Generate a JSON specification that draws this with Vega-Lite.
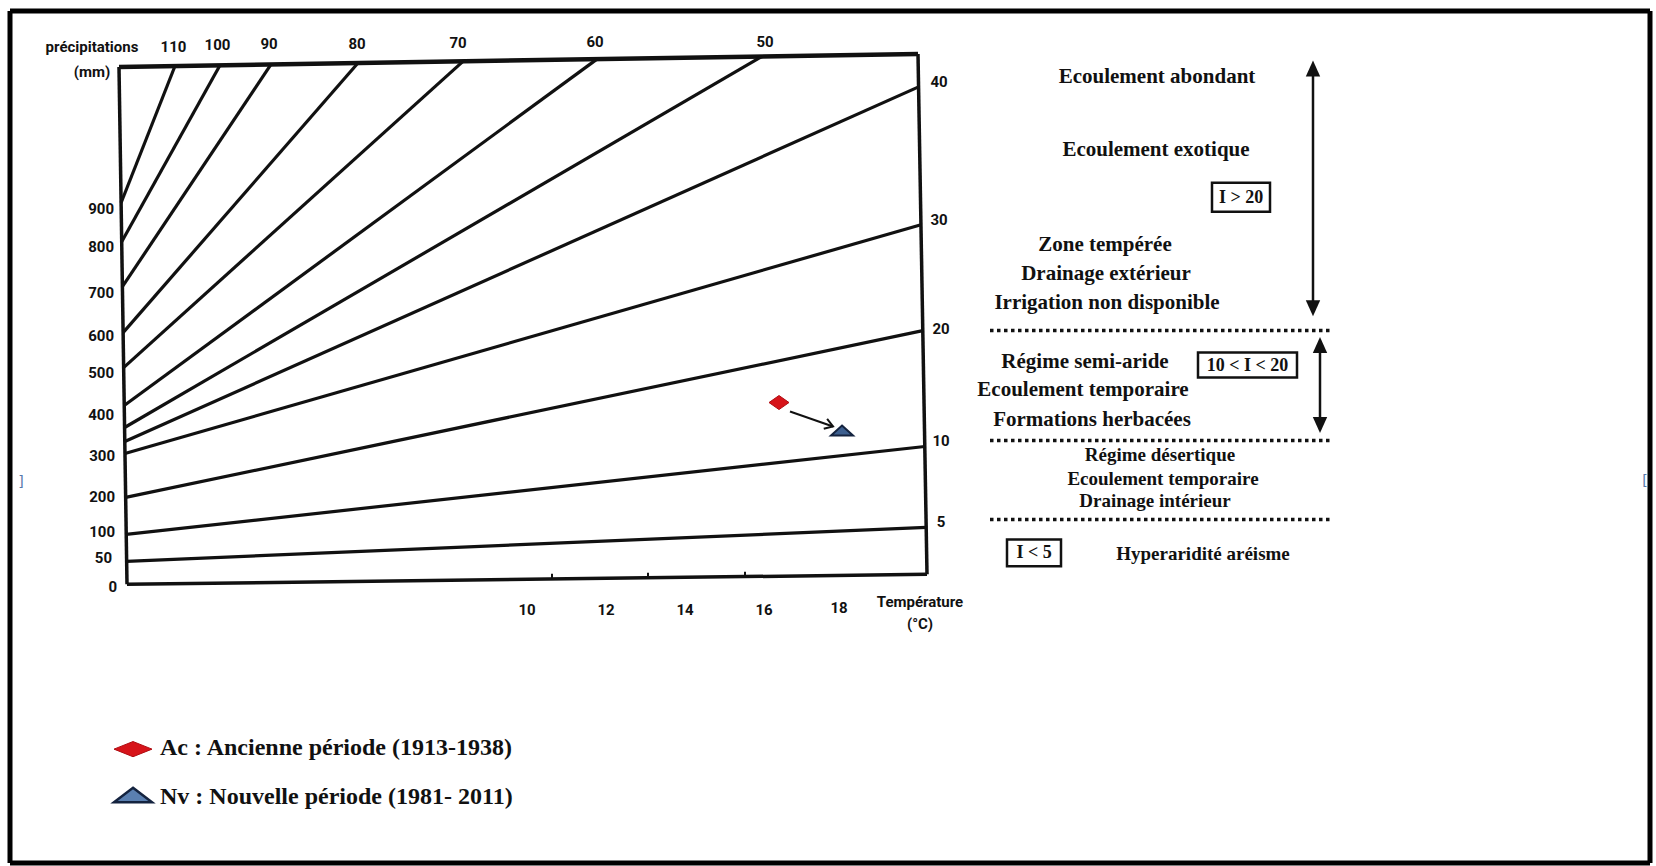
{
  "$schema": "https://vega.github.io/schema/vega-lite/v6.json",
  "width": 1656,
  "height": 866,
  "autosize": {"type": "fit", "contains": "padding"},
  "padding": 0,
  "background": "white",
  "config": {"view": {"stroke": null}},
  "datasets": {
    "frame": [
      {"x": 10, "y": 11, "x2": 1650, "y2": 11},
      {"x": 10, "y": 11, "x2": 10, "y2": 864},
      {"x": 1650, "y": 11, "x2": 1650, "y2": 864},
      {"x": 10, "y": 864, "x2": 1650, "y2": 864}
    ],
    "topEdge": [
      {"edge": "top", "x": 119, "y": 67, "x2": 918, "y2": 54}
    ],
    "axes": [
      {"edge": "left", "x": 119, "y": 67, "x2": 127, "y2": 585},
      {"edge": "right", "x": 918, "y": 54, "x2": 927, "y2": 575},
      {"edge": "bottom", "x": 127, "y": 585, "x2": 927, "y2": 575}
    ],
    "isolines": [
      {"I": 110, "x": 121.1, "y": 203, "x2": 175, "y2": 66.1},
      {"I": 100, "x": 121.7, "y": 242, "x2": 220, "y2": 65.4},
      {"I": 90, "x": 122.4, "y": 287, "x2": 271, "y2": 64.5},
      {"I": 80, "x": 123.1, "y": 333, "x2": 358, "y2": 63.1},
      {"I": 70, "x": 123.6, "y": 368, "x2": 463, "y2": 61.4},
      {"I": 60, "x": 124.2, "y": 406, "x2": 597, "y2": 59.2},
      {"I": 50, "x": 124.6, "y": 428, "x2": 762, "y2": 56.5},
      {"I": 40, "x": 124.8, "y": 442, "x2": 918.6, "y2": 87},
      {"I": 30, "x": 125, "y": 454, "x2": 921, "y2": 225},
      {"I": 20, "x": 125.7, "y": 498, "x2": 922.8, "y2": 331},
      {"I": 10, "x": 126.2, "y": 535, "x2": 924.8, "y2": 447},
      {"I": 5, "x": 126.6, "y": 562, "x2": 926.2, "y2": 528}
    ],
    "ticks": [
      {"T": 12, "x": 552, "y": 579.7, "x2": 552, "y2": 574.5},
      {"T": 14, "x": 648, "y": 578.5, "x2": 648, "y2": 573.5},
      {"T": 16, "x": 745, "y": 577.3, "x2": 745, "y2": 572.3}
    ],
    "leftlabels": [
      {"label": "900", "x": 114, "y": 209},
      {"label": "800", "x": 114, "y": 247},
      {"label": "700", "x": 114, "y": 293},
      {"label": "600", "x": 114, "y": 336},
      {"label": "500", "x": 114, "y": 373},
      {"label": "400", "x": 114, "y": 415},
      {"label": "300", "x": 115, "y": 457},
      {"label": "200", "x": 115, "y": 498},
      {"label": "100", "x": 115, "y": 533},
      {"label": "50", "x": 112, "y": 559},
      {"label": "0", "x": 117, "y": 588}
    ],
    "centerlabels": [
      {"label": "précipitations", "x": 92, "y": 47},
      {"label": "(mm)", "x": 92, "y": 72},
      {"label": "110", "x": 173.5, "y": 47},
      {"label": "100", "x": 217.5, "y": 45},
      {"label": "90", "x": 269, "y": 44},
      {"label": "80", "x": 357, "y": 44},
      {"label": "70", "x": 458, "y": 43},
      {"label": "60", "x": 595, "y": 42},
      {"label": "50", "x": 765, "y": 42},
      {"label": "40", "x": 939, "y": 82},
      {"label": "30", "x": 939, "y": 220},
      {"label": "20", "x": 941, "y": 329},
      {"label": "10", "x": 941, "y": 442},
      {"label": "5", "x": 941, "y": 523},
      {"label": "10", "x": 527, "y": 611},
      {"label": "12", "x": 606, "y": 611},
      {"label": "14", "x": 685, "y": 611},
      {"label": "16", "x": 764, "y": 611},
      {"label": "18", "x": 839, "y": 609},
      {"label": "Température", "x": 920, "y": 603},
      {"label": "(°C)", "x": 920, "y": 625}
    ],
    "zones": [
      {"label": "Ecoulement abondant", "x": 1157, "y": 77},
      {"label": "Ecoulement exotique", "x": 1156, "y": 150},
      {"label": "Zone tempérée", "x": 1105, "y": 245},
      {"label": "Drainage extérieur", "x": 1106, "y": 274},
      {"label": "Irrigation non disponible", "x": 1107, "y": 303},
      {"label": "Régime semi-aride", "x": 1085, "y": 362},
      {"label": "Ecoulement temporaire", "x": 1083, "y": 390},
      {"label": "Formations herbacées", "x": 1092, "y": 420}
    ],
    "zones2": [
      {"label": "Régime désertique", "x": 1160, "y": 456},
      {"label": "Ecoulement temporaire", "x": 1163, "y": 480},
      {"label": "Drainage intérieur", "x": 1155, "y": 502},
      {"label": "Hyperaridité aréisme", "x": 1203, "y": 555}
    ],
    "boxes": [
      {"label": "I > 20", "x": 1212, "x2": 1270, "y": 183, "y2": 212, "cx": 1241, "cy": 198},
      {"label": "10 < I < 20", "x": 1198, "x2": 1297, "y": 353, "y2": 378, "cx": 1247.5, "cy": 366},
      {"label": "I < 5", "x": 1007, "x2": 1061, "y": 540, "y2": 567, "cx": 1034, "cy": 554}
    ],
    "dotted": [
      {"x": 990, "y": 331, "x2": 1333, "y2": 331},
      {"x": 990, "y": 441, "x2": 1333, "y2": 441},
      {"x": 990, "y": 520, "x2": 1333, "y2": 520}
    ],
    "shafts": [
      {"x": 1313, "y": 70, "x2": 1313, "y2": 307},
      {"x": 1320, "y": 347, "x2": 1320, "y2": 424}
    ],
    "headsUp": [
      {"x": 1313, "y": 68.5},
      {"x": 1320, "y": 345.5}
    ],
    "headsDown": [
      {"x": 1313, "y": 308.5},
      {"x": 1320, "y": 425.5}
    ],
    "ancienne": [
      {"period": "Ac", "x": 779, "y": 403},
      {"period": "Ac legend", "x": 133, "y": 750}
    ],
    "nouvelle": [
      {"period": "Nv", "x": 842, "y": 431},
      {"period": "Nv legend", "x": 133, "y": 796}
    ],
    "shift": [
      {"x": 790, "y": 412, "x2": 833, "y2": 427}
    ],
    "shiftHead": [
      {"x": 833, "y": 427}
    ],
    "legendText": [
      {"label": "Ac : Ancienne période (1913-1938)", "x": 160, "y": 749},
      {"label": "Nv : Nouvelle période (1981- 2011)", "x": 160, "y": 798}
    ],
    "anchors": [
      {"label": "]", "x": 21, "y": 483},
      {"label": "[", "x": 1645, "y": 482}
    ]
  },
  "encoding": {
    "x": {"field": "x", "type": "quantitative", "scale": {"domain": [0, 1656], "nice": false, "zero": false}, "axis": null},
    "y": {"field": "y", "type": "quantitative", "scale": {"domain": [0, 866], "nice": false, "zero": false, "reverse": true}, "axis": null}
  },
  "layer": [
    {
      "data": {"name": "frame"},
      "mark": {"type": "rule", "color": "#000000", "strokeWidth": 5},
      "encoding": {"x2": {"field": "x2"}, "y2": {"field": "y2"}}
    },
    {
      "data": {"name": "topEdge"},
      "mark": {"type": "rule", "color": "#111111", "strokeWidth": 4.5},
      "encoding": {"x2": {"field": "x2"}, "y2": {"field": "y2"}}
    },
    {
      "data": {"name": "axes"},
      "mark": {"type": "rule", "color": "#111111", "strokeWidth": 3.5},
      "encoding": {"x2": {"field": "x2"}, "y2": {"field": "y2"}}
    },
    {
      "data": {"name": "isolines"},
      "mark": {"type": "rule", "color": "#111111", "strokeWidth": 3.2},
      "encoding": {"x2": {"field": "x2"}, "y2": {"field": "y2"}}
    },
    {
      "data": {"name": "ticks"},
      "mark": {"type": "rule", "color": "#111111", "strokeWidth": 2},
      "encoding": {"x2": {"field": "x2"}, "y2": {"field": "y2"}}
    },
    {
      "data": {"name": "leftlabels"},
      "mark": {"type": "text", "align": "right", "baseline": "middle", "font": "Roboto", "fontWeight": "bold", "fontSize": 15, "color": "#111111"},
      "encoding": {"text": {"field": "label"}}
    },
    {
      "data": {"name": "centerlabels"},
      "mark": {"type": "text", "align": "center", "baseline": "middle", "font": "Roboto", "fontWeight": "bold", "fontSize": 15, "color": "#111111"},
      "encoding": {"text": {"field": "label"}}
    },
    {
      "data": {"name": "zones"},
      "mark": {"type": "text", "align": "center", "baseline": "middle", "font": "Liberation Serif", "fontWeight": "bold", "fontSize": 21, "color": "#111111"},
      "encoding": {"text": {"field": "label"}}
    },
    {
      "data": {"name": "zones2"},
      "mark": {"type": "text", "align": "center", "baseline": "middle", "font": "Liberation Serif", "fontWeight": "bold", "fontSize": 19, "color": "#111111"},
      "encoding": {"text": {"field": "label"}}
    },
    {
      "data": {"name": "boxes"},
      "mark": {"type": "rect", "fill": null, "fillOpacity": 0, "stroke": "#111111", "strokeWidth": 2.5},
      "encoding": {"x2": {"field": "x2"}, "y2": {"field": "y2"}}
    },
    {
      "data": {"name": "boxes"},
      "mark": {"type": "text", "align": "center", "baseline": "middle", "font": "Liberation Serif", "fontWeight": "bold", "fontSize": 18, "color": "#111111"},
      "encoding": {"x": {"field": "cx", "type": "quantitative"}, "y": {"field": "cy", "type": "quantitative"}, "text": {"field": "label"}}
    },
    {
      "data": {"name": "dotted"},
      "mark": {"type": "rule", "color": "#111111", "strokeWidth": 3.5, "strokeDash": [3.5, 3.5]},
      "encoding": {"x2": {"field": "x2"}, "y2": {"field": "y2"}}
    },
    {
      "data": {"name": "shafts"},
      "mark": {"type": "rule", "color": "#111111", "strokeWidth": 2.5},
      "encoding": {"x2": {"field": "x2"}, "y2": {"field": "y2"}}
    },
    {
      "data": {"name": "headsUp"},
      "mark": {"type": "point", "shape": "M0,-1L0.9,1L-0.9,1Z", "filled": true, "color": "#111111", "opacity": 1, "size": 256}
    },
    {
      "data": {"name": "headsDown"},
      "mark": {"type": "point", "shape": "M0,1L0.9,-1L-0.9,-1Z", "filled": true, "color": "#111111", "opacity": 1, "size": 256}
    },
    {
      "data": {"name": "shift"},
      "mark": {"type": "rule", "color": "#111111", "strokeWidth": 2},
      "encoding": {"x2": {"field": "x2"}, "y2": {"field": "y2"}}
    },
    {
      "data": {"name": "shiftHead"},
      "mark": {"type": "point", "shape": "M-1,-0.65L0,0L-1,0.65", "filled": false, "stroke": "#111111", "strokeWidth": 2, "opacity": 1, "size": 256, "angle": 19}
    },
    {
      "data": {"name": "ancienne"},
      "transform": [{"filter": "datum.period == 'Ac'"}],
      "mark": {"type": "point", "shape": "M-1,0L0,-0.7L1,0L0,0.7Z", "filled": true, "fill": "#d7141a", "stroke": "#b00d12", "strokeWidth": 1, "opacity": 1, "size": 400}
    },
    {
      "data": {"name": "ancienne"},
      "transform": [{"filter": "datum.period == 'Ac legend'"}],
      "mark": {"type": "point", "shape": "M-1,0L0,-0.4L1,0L0,0.4Z", "filled": true, "fill": "#d7141a", "stroke": "#b00d12", "strokeWidth": 1, "opacity": 1, "size": 1444}
    },
    {
      "data": {"name": "nouvelle"},
      "transform": [{"filter": "datum.period == 'Nv'"}],
      "mark": {"type": "point", "shape": "M0,-0.45L1,0.45L-1,0.45Z", "filled": true, "fill": "#3d5f8f", "stroke": "#14233f", "strokeWidth": 2, "opacity": 1, "size": 484}
    },
    {
      "data": {"name": "nouvelle"},
      "transform": [{"filter": "datum.period == 'Nv legend'"}],
      "mark": {"type": "point", "shape": "M0,-0.38L1,0.38L-1,0.38Z", "filled": true, "fill": "#5a7fb0", "stroke": "#14233f", "strokeWidth": 2.5, "opacity": 1, "size": 1444}
    },
    {
      "data": {"name": "legendText"},
      "mark": {"type": "text", "align": "left", "baseline": "middle", "font": "Liberation Serif", "fontWeight": "bold", "fontSize": 24, "color": "#111111"},
      "encoding": {"text": {"field": "label"}}
    },
    {
      "data": {"name": "anchors"},
      "mark": {"type": "text", "align": "center", "baseline": "middle", "font": "DejaVu Sans", "fontSize": 14, "color": "#5577aa"},
      "encoding": {"text": {"field": "label"}}
    }
  ]
}
